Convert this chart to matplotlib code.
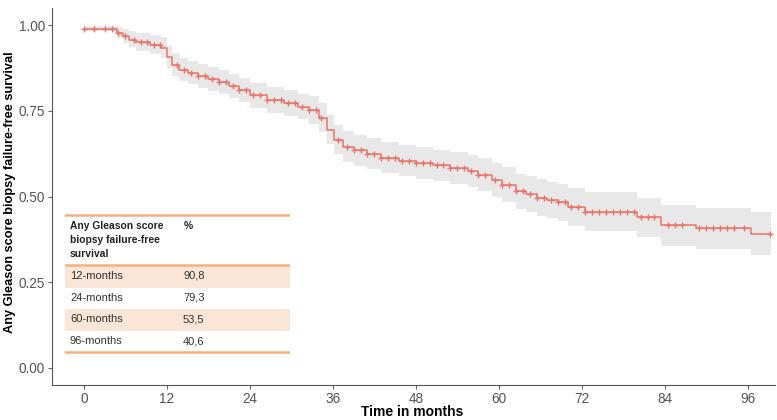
import numpy as np
import matplotlib.pyplot as plt
from matplotlib.patches import Rectangle

# Kaplan-Meier estimate (step times and survival after each step)
step_t = [0, 4.8, 5.6, 6.5, 7.5, 9.5, 11.2, 12.0, 12.8, 13.8, 15, 16.5, 18, 19.5, 21,
          22.5, 24, 26.5, 29, 31, 32.5, 34, 35.2, 36.2, 37.4, 39, 41, 43, 45.5, 48,
          50.5, 53, 55.5, 57, 59, 60.5, 62.5, 64, 65.5, 67, 68.5, 70, 72.5, 80, 83.5,
          88.5, 96.5]
surv = [0.99, 0.978, 0.968, 0.958, 0.95, 0.943, 0.933, 0.907, 0.884, 0.87, 0.86, 0.852,
        0.843, 0.833, 0.822, 0.81, 0.795, 0.782, 0.772, 0.762, 0.752, 0.73, 0.695, 0.666,
        0.645, 0.635, 0.625, 0.613, 0.605, 0.598, 0.591, 0.584, 0.575, 0.564, 0.548,
        0.535, 0.515, 0.508, 0.497, 0.49, 0.483, 0.47, 0.456, 0.439, 0.416, 0.407, 0.392]
ci_upper = [0.998, 0.995, 0.99, 0.984, 0.978, 0.972, 0.964, 0.94, 0.918, 0.905, 0.895, 0.887,
            0.878, 0.868, 0.858, 0.846, 0.832, 0.82, 0.81, 0.8, 0.792, 0.772, 0.738, 0.71,
            0.69, 0.68, 0.67, 0.658, 0.65, 0.644, 0.637, 0.63, 0.622, 0.612, 0.597, 0.585,
            0.566, 0.56, 0.55, 0.543, 0.537, 0.525, 0.512, 0.497, 0.476, 0.468, 0.456]
ci_lower = [0.982, 0.962, 0.948, 0.935, 0.925, 0.916, 0.904, 0.876, 0.852, 0.837, 0.827,
            0.818, 0.809, 0.799, 0.787, 0.775, 0.759, 0.745, 0.735, 0.725, 0.713, 0.689,
            0.653, 0.623, 0.6, 0.59, 0.58, 0.568, 0.56, 0.552, 0.545, 0.538, 0.528, 0.516,
            0.499, 0.485, 0.464, 0.456, 0.444, 0.437, 0.429, 0.415, 0.4, 0.381, 0.356,
            0.347, 0.33]
last_t = 99.4

censor_t = [0, 1.5, 3, 4, 5, 6, 7.2, 8.2, 9.2, 10.2, 11, 13.5, 14.5, 15.5, 16.5, 17.5,
            18.5, 19.5, 20.5, 21.5, 22.5, 23.5, 24.5, 25.5, 26.5, 27.5, 28.5, 29.5, 30.5,
            31.5, 32.5, 33.5, 34.3, 36.8, 38, 39, 40, 41, 42, 43, 44, 45, 46, 47, 48, 49,
            50, 51, 52, 53, 54, 55, 56, 57, 58, 59.5, 60.5, 61.5, 62.5, 63.5, 64.5, 65.5,
            66.5, 67.5, 68.5, 69.5, 70.5, 71.5, 72.5, 73.5, 74.5, 75.5, 76.5, 77.5, 78.5,
            79.5, 80.5, 81.5, 82.5, 84.5, 85.5, 86.5, 89, 90, 91, 92, 93, 94, 95.5, 99.2]

table_rows = ['12-months', '24-months', '60-months', '96-months']
table_vals = ['90,8', '79,3', '53,5', '40,6']

red = '#E8756B'
grey_txt = '#555555'

plt.rcParams['font.family'] = ['Liberation Sans', 'DejaVu Sans']

fig = plt.figure(figsize=(7.77, 4.2), dpi=100)
ax = fig.add_axes([0.067, 0.083, 0.931, 0.898])

t_full = step_t + [last_t]
fill_up = ci_upper + [ci_upper[-1]]
fill_lo = ci_lower + [ci_lower[-1]]
s_full = surv + [surv[-1]]
ax.fill_between(t_full, fill_lo, fill_up, step='post', color='#E8E8E8', lw=0)
ax.plot(t_full, s_full, drawstyle='steps-post', color=red, lw=1.1)

idx = np.searchsorted(step_t, censor_t, side='right') - 1
censor_y = np.array(surv)[idx]
ax.plot(censor_t, censor_y, ls='none', marker='+', ms=5, mew=1.0, color=red)

ax.set_xlim(-4.6, 100)
ax.set_ylim(-0.05, 1.05)
ax.set_xticks(np.arange(0, 97, 12))
ax.set_yticks([0, 0.25, 0.5, 0.75, 1.0])
ax.set_yticklabels(['0.00', '0.25', '0.50', '0.75', '1.00'])
ax.tick_params(colors='#666666', labelcolor=grey_txt, labelsize=9.8, length=3)
ax.tick_params(axis='y', pad=2)
ax.tick_params(axis='x', pad=2)
for side in ['top', 'right']:
    ax.spines[side].set_visible(False)
for side in ['left', 'bottom']:
    ax.spines[side].set_color('#555555')
fig.text(412 / 777, 1 - 412 / 420, 'Time in months', fontsize=10, fontweight='bold',
         ha='center', va='center')
fig.text(10 / 777, 1 - 192 / 420, 'Any Gleason score biopsy failure-free survival',
         fontsize=9.2, fontweight='bold', rotation=90, ha='center', va='center')

# summary table drawn in a small axes in pixel-like units
tab = fig.add_axes([65 / 777, 1 - 355 / 420, 225 / 777, 143 / 420])
tab.set_xlim(65, 290)
tab.set_ylim(355, 212)
tab.axis('off')
line_c = '#F4B183'
shade_c = '#FBE5D6'
for y0, y1 in [(265, 288), (309, 331)]:
    tab.add_patch(Rectangle((65, y0), 225, y1 - y0, color=shade_c, lw=0))
for y in [215, 265, 352]:
    tab.plot([65, 290], [y, y], color=line_c, lw=1.8)
hdr = ['Any Gleason score', 'biopsy failure-free', 'survival']
for i, h in enumerate(hdr):
    tab.text(70, 226 + i * 14, h, fontsize=7.4, fontweight='bold', va='center',
             color='#222222')
tab.text(184, 226, '%', fontsize=7.4, fontweight='bold', va='center', color='#222222')
for i, (r, v) in enumerate(zip(table_rows, table_vals)):
    y = 276 + i * 21.7
    tab.text(70, y, r, fontsize=8, va='center', color='#333333')
    tab.text(183, y, v, fontsize=8, va='center', color='#333333')

fig.savefig('out.png', dpi=100)
